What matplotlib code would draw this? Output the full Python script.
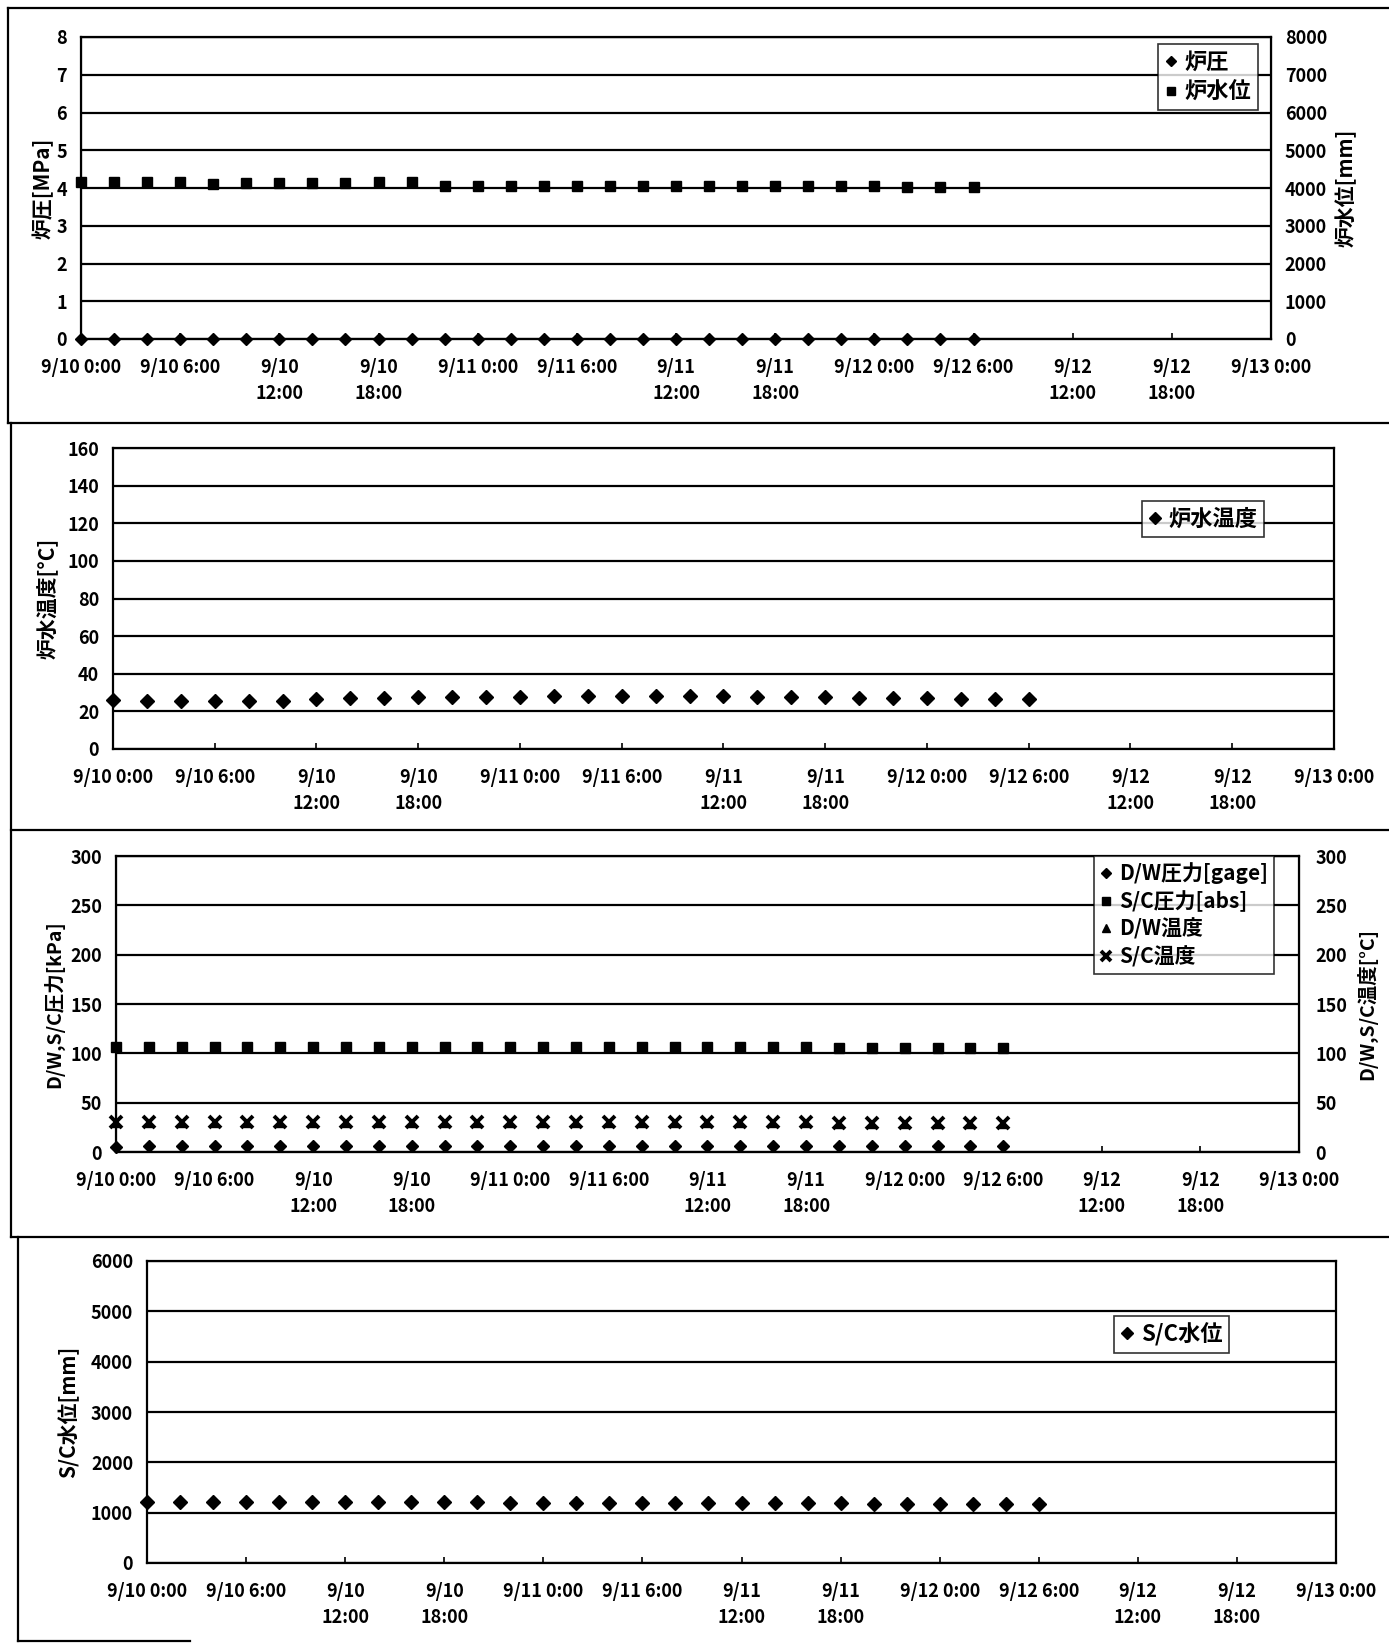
import matplotlib.pyplot as plt
from matplotlib.lines import Line2D

plt.rcParams['font.family'] = ['Noto Sans CJK JP', 'DejaVu Sans']
plt.rcParams['font.weight'] = 'bold'
plt.rcParams['axes.labelweight'] = 'bold'

# hours since 9/10 0:00, sampled every 2 h up to 9/12 6:00
hours = [0, 2, 4, 6, 8, 10, 12, 14, 16, 18, 20, 22, 24, 26,
         28, 30, 32, 34, 36, 38, 40, 42, 44, 46, 48, 50, 52, 54]

tick_hours = [0, 6, 12, 18, 24, 30, 36, 42, 48, 54, 60, 66, 72]
tick_labels = ['9/10 0:00', '9/10 6:00', '9/10\n12:00', '9/10\n18:00',
               '9/11 0:00', '9/11 6:00', '9/11\n12:00', '9/11\n18:00',
               '9/12 0:00', '9/12 6:00', '9/12\n12:00', '9/12\n18:00',
               '9/13 0:00']

# panel 1
rpv_press = [0.0, 0.0, 0.0, 0.0, 0.0, 0.0, 0.0, 0.0, 0.0, 0.0, 0.0, 0.0, 0.0, 0.0,
             0.0, 0.0, 0.0, 0.0, 0.0, 0.0, 0.0, 0.0, 0.0, 0.0, 0.0, 0.0, 0.0, 0.0]
rpv_level = [4150, 4150, 4150, 4150, 4100, 4120, 4120, 4140, 4140, 4150, 4150, 4060, 4060, 4050,
             4050, 4050, 4050, 4050, 4050, 4050, 4050, 4040, 4040, 4040, 4040, 4030, 4030, 4020]

# panel 2
rpv_temp = [26, 25.5, 25.5, 25.5, 25.5, 25.5, 26.5, 27, 27, 27.5, 27.5, 27.5, 27.5, 28,
            28, 28, 28, 28, 28, 27.5, 27.5, 27.5, 27, 27, 27, 26.5, 26.5, 26.5]

# panel 3
dw_press = [5, 6, 6, 6, 6, 6, 6, 6, 6, 6, 6, 6, 6, 6,
            6, 6, 6, 6, 6, 6, 6, 6, 6, 6, 6, 6, 6, 6]
sc_press = [106, 106, 106, 106, 106, 106, 106, 106, 106, 106, 106, 106, 106, 106,
            106, 106, 106, 106, 106, 106, 106, 106, 105, 105, 105, 105, 105, 105]
dw_temp = [29, 29, 29, 29, 29, 29, 29, 29, 29, 29, 29, 29, 29, 29,
           29, 29, 29, 29, 29, 29, 29, 29, 28, 28, 28, 28, 28, 28]
sc_temp = [30, 30, 30, 30, 30, 30, 30, 30, 30, 30, 30, 30, 30, 30,
           30, 30, 30, 30, 30, 30, 30, 30, 29, 29, 29, 29, 29, 29]

# panel 4
sc_level = [1210, 1210, 1210, 1210, 1210, 1210, 1210, 1210, 1210, 1210, 1210, 1200, 1200, 1200,
            1200, 1200, 1200, 1200, 1200, 1200, 1190, 1190, 1180, 1180, 1180, 1180, 1170, 1170]

W, H = 1389, 1646
fig = plt.figure(figsize=(W / 100, H / 100), dpi=100)


def make_axes(left, right, top, bottom):
    return fig.add_axes([left / W, 1 - bottom / H, (right - left) / W, (bottom - top) / H])


def style(ax, ymax, step):
    ax.set_xlim(0, 72)
    ax.set_ylim(0, ymax)
    ax.set_yticks([i * step for i in range(int(ymax / step) + 1)])
    ax.set_xticks(tick_hours)
    ax.set_xticklabels(tick_labels, fontsize=13, linespacing=1.45)
    ax.tick_params(axis='x', direction='in', length=4, width=1.2, pad=14)
    ax.tick_params(axis='y', length=0, labelsize=13, pad=10)
    ax.grid(axis='y', color='black', linewidth=1.6)
    ax.set_axisbelow(True)
    for s in ax.spines.values():
        s.set_linewidth(1.6)
        s.set_color('black')


def legend(ax, handles, labels, anchor, fs=15):
    leg = ax.legend(handles, labels, loc='upper right', bbox_to_anchor=anchor,
                    borderaxespad=0, fontsize=fs, frameon=True, fancybox=False,
                    handlelength=0.6, handletextpad=0.3, borderpad=0.3,
                    labelspacing=0.3, markerscale=0.85)
    leg.get_frame().set_edgecolor('black')
    leg.get_frame().set_linewidth(1.2)
    return leg


# ---- panel 1 ----
ax1 = make_axes(81, 1271, 37, 339)
ax1r = ax1.twinx()
style(ax1, 8, 1)
ax1r.set_ylim(0, 8000)
ax1r.set_yticks([0, 1000, 2000, 3000, 4000, 5000, 6000, 7000, 8000])
ax1r.tick_params(axis='y', length=0, labelsize=13, pad=10)
ax1.plot(hours, rpv_press, 'D', color='black', ms=6, label='炉圧', clip_on=False, zorder=5)
ax1r.plot(hours, rpv_level, 's', color='black', ms=7, label='炉水位', clip_on=False)
ax1.set_ylabel('炉圧[MPa]', fontsize=15, labelpad=2)
ax1r.set_ylabel('炉水位[mm]', fontsize=15, labelpad=6)
h1, l1 = ax1.get_legend_handles_labels()
h2, l2 = ax1r.get_legend_handles_labels()
legend(ax1r, h1 + h2, l1 + l2, (0.989, 0.977), fs=16)

# ---- panel 2 ----
ax2 = make_axes(113, 1334, 448, 749)
style(ax2, 160, 20)
ax2.plot(hours, rpv_temp, 'D', color='black', ms=7, label='炉水温度', clip_on=False)
ax2.set_ylabel('炉水温度[°C]', fontsize=15, labelpad=6)
h, l = ax2.get_legend_handles_labels()
legend(ax2, h, l, (0.943, 0.824), fs=16)

# ---- panel 3 ----
ax3 = make_axes(116, 1299, 856, 1152)
ax3r = ax3.twinx()
style(ax3, 300, 50)
ax3r.set_ylim(0, 300)
ax3r.set_yticks([0, 50, 100, 150, 200, 250, 300])
ax3r.tick_params(axis='y', length=0, labelsize=13, pad=12)
ax3.plot(hours, dw_press, 'D', color='black', ms=6, label='D/W圧力[gage]', clip_on=False)
ax3.plot(hours, sc_press, 's', color='black', ms=7, label='S/C圧力[abs]', clip_on=False)
ax3r.plot(hours, dw_temp, '^', color='black', ms=6, label='D/W温度', clip_on=False)
ax3r.plot(hours, sc_temp, 'x', color='black', ms=8, mew=2.8, label='S/C温度', clip_on=False)
ax3.set_ylabel('D/W,S/C圧力[kPa]', fontsize=14, labelpad=4)
ax3r.set_ylabel('D/W,S/C温度[°C]', fontsize=14, labelpad=6)
h1, l1 = ax3.get_legend_handles_labels()
h2, l2 = ax3r.get_legend_handles_labels()
legend(ax3r, h1 + h2, l1 + l2, (0.979, 1.0), fs=15)

# ---- panel 4 ----
ax4 = make_axes(147, 1336, 1261, 1563)
style(ax4, 6000, 1000)
ax4.plot(hours, sc_level, 'D', color='black', ms=7, label='S/C水位', clip_on=False)
ax4.set_ylabel('S/C水位[mm]', fontsize=15, labelpad=8)
h, l = ax4.get_legend_handles_labels()
legend(ax4, h, l, (0.91, 0.818), fs=16)


# chart-area borders
def hline(y, x0=0, x1=W):
    fig.add_artist(Line2D([x0 / W, x1 / W], [1 - y / H, 1 - y / H], color='black', lw=1.6))


def vline(x, y0, y1):
    fig.add_artist(Line2D([x / W, x / W], [1 - y0 / H, 1 - y1 / H], color='black', lw=1.6))


hline(8, 8)
hline(423, 8)
hline(830, 11)
hline(1237, 11)
hline(1641, 18, 190)
vline(8, 8, 423)
vline(11, 423, 1237)
vline(18, 1237, 1641)

fig.savefig('out.png', dpi=100, facecolor='white')
